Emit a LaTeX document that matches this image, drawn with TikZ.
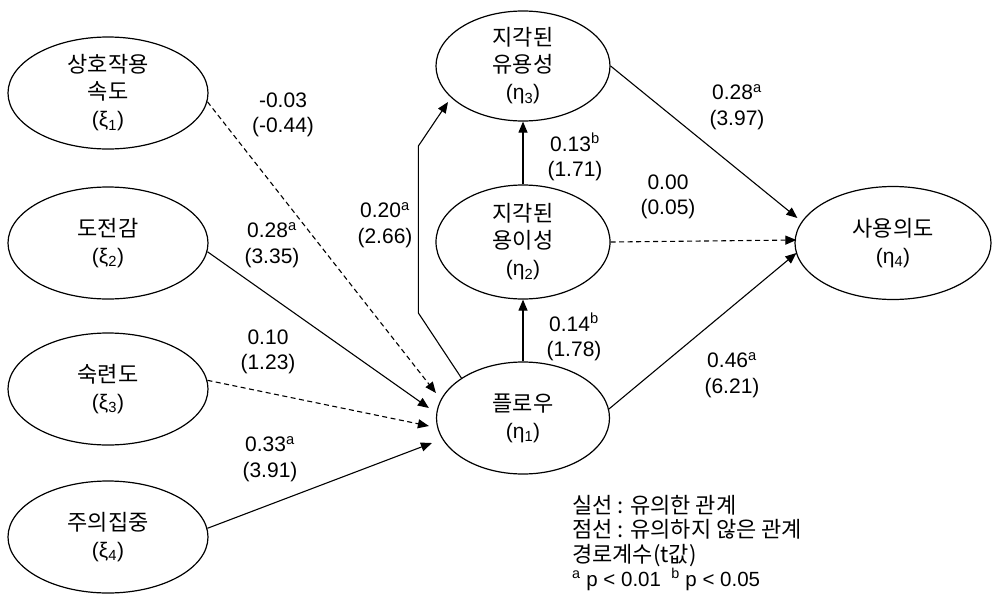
\documentclass[tikz,border=0pt]{standalone}
\usepackage{fontspec}
\setmainfont{Liberation Sans}
\newfontfamily\kr{Noto Sans CJK KR}
\usetikzlibrary{shapes.geometric, arrows.meta, calc}

\begin{document}
\begin{tikzpicture}[x=1pt, y=-1pt,
    latent/.style={ellipse, draw, line width=1.2pt, inner sep=0pt, align=center,
        minimum height=112pt, font=\kr\fontsize{22}{27}\selectfont},
    coef/.style={align=center, font=\fontsize{21}{25.5}\selectfont},
    sig/.style={line width=1.1pt, -{Triangle[length=11pt, width=9pt]}},
    nonsig/.style={sig, dash pattern=on 5pt off 3.5pt}]
    \useasboundingbox (0,0) rectangle (993,595);

    % Exogenous constructs
    \node[latent, minimum width=200pt] (xi1) at (108,93) {상호작용\\속도\\{\rmfamily\fontsize{21}{27}\selectfont(ξ\textsubscript{1})}};
    \node[latent, minimum width=200pt] (xi2) at (108,243) {도전감\\{\rmfamily\fontsize{21}{27}\selectfont(ξ\textsubscript{2})}};
    \node[latent, minimum width=200pt] (xi3) at (108,389) {숙련도\\{\rmfamily\fontsize{21}{27}\selectfont(ξ\textsubscript{3})}};
    \node[latent, minimum width=200pt] (xi4) at (108,537) {주의집중\\{\rmfamily\fontsize{21}{27}\selectfont(ξ\textsubscript{4})}};

    % Endogenous constructs
    \node[latent, minimum width=174pt, minimum height=110pt] (eta3) at (523,66) {지각된\\유용성\\{\rmfamily\fontsize{21}{27}\selectfont(η\textsubscript{3})}};
    \node[latent, minimum width=174pt, minimum height=114pt] (eta2) at (523,242) {지각된\\용이성\\{\rmfamily\fontsize{21}{27}\selectfont(η\textsubscript{2})}};
    \node[latent, minimum width=173pt] (eta1) at (523,418) {플로우\\{\rmfamily\fontsize{21}{27}\selectfont(η\textsubscript{1})}};
    \node[latent, minimum width=196pt, minimum height=113pt] (eta4) at (893,243) {사용의도\\{\rmfamily\fontsize{21}{27}\selectfont(η\textsubscript{4})}};

    % Arrow ends
    \coordinate (in1) at ($(eta1.west)+(0,-25)$);
    \coordinate (in2) at ($(eta1.west)+(-7,-10)$);
    \coordinate (in3) at ($(eta1.west)+(-7,8)$);
    \coordinate (in4) at ($(eta1.west)+(-4,25)$);
    \coordinate (in5) at ($(eta4.west)+(3,-25)$);
    \coordinate (in6) at ($(eta4.west)+(2,-3)$);
    \coordinate (in7) at ($(eta4.west)+(2,10)$);
    \coordinate (in8) at ($(eta3.center)+(-75,36)$);

    % Paths into flow
    \draw[nonsig] (xi1.-5) -- (in1);
    \draw[sig] (xi2.-5) -- (in2);
    \draw[nonsig] (xi3.5) -- (in3);
    \draw[sig] (xi4.5) -- (in4);

    % Paths from flow
    \draw[sig] (eta1.147) -- ++(-43,-65) -- ++(0,-167) -- (in8);
    \draw[sig] (eta1.north) -- (eta1.north |- eta2.south);
    \draw[sig] (eta2.north) -- (eta3.south);
    \draw[sig] (eta3.east) -- (in5);
    \draw[nonsig] (eta2.east) -- (in6);
    \draw[sig] (eta1.6) -- (in7);

    % Coefficients (t values)
    \node[coef] (c1) at (283,115) {-0.03\\(-0.44)};
    \node[coef] (c2) at (272,245) {0.28\textsuperscript{a}\\(3.35)};
    \node[coef] (c3) at (268,352) {0.10\\(1.23)};
    \node[coef] (c4) at (270,459) {0.33\textsuperscript{a}\\(3.91)};
    \node[coef] (c5) at (385,225) {0.20\textsuperscript{a}\\(2.66)};
    \node[coef] (c6) at (574,337) {0.14\textsuperscript{b}\\(1.78)};
    \node[coef] (c7) at (575,157) {0.13\textsuperscript{b}\\(1.71)};
    \node[coef] (c8) at (668,197) {0.00\\(0.05)};
    \node[coef] (c9) at (737,107) {0.28\textsuperscript{a}\\(3.97)};
    \node[coef] (c10) at (732,375) {0.46\textsuperscript{a}\\(6.21)};

    % Legend
    \node[anchor=west, align=left, inner sep=0pt, font=\kr\fontsize{22}{24.3}\selectfont] (legend) at (572,543) {
        실선 : 유의한 관계\\
        점선 : 유의하지 않은 관계\\
        경로계수(t값)\\
        {\rmfamily\fontsize{20.5}{24.3}\selectfont\textsuperscript{a} p < 0.01\enspace\textsuperscript{b} p < 0.05}};
\end{tikzpicture}
\end{document}
